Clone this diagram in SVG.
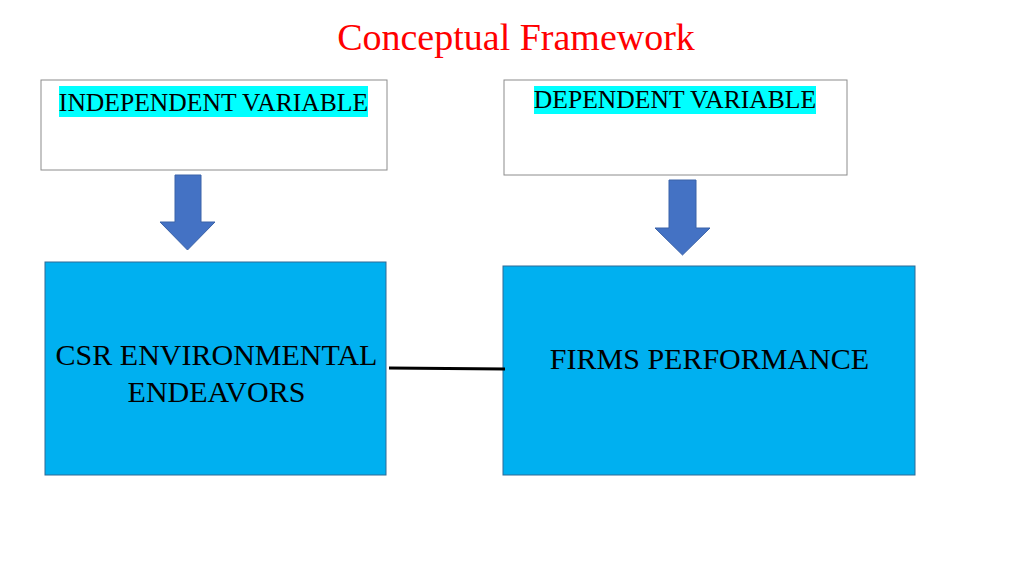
<svg xmlns="http://www.w3.org/2000/svg" width="1024" height="576" viewBox="0 0 1024 576">
<style>
.t{font-family:"Liberation Serif","Times New Roman",serif;fill:#000;}
.hdr{fill:#fff;stroke:#8c8c8c;stroke-width:1;}
.hl{fill:#00FFFF;}
.blue{fill:#00B0F0;stroke:#2F6A96;stroke-width:1;}
.arr{fill:#4472C4;stroke:#3A62A8;stroke-width:1;}
</style>
<rect width="1024" height="576" fill="#fff"/>
<text x="516" y="50" text-anchor="middle" font-family="Liberation Serif, serif" font-size="38" fill="#FF0000">Conceptual Framework</text>
<g id="independent">
<rect class="hdr" x="41" y="80" width="346" height="90"/>
<rect class="hl" x="59" y="86" width="309" height="31"/>
<text class="t" x="213.5" y="111" text-anchor="middle" font-size="25.6">INDEPENDENT VARIABLE</text>
</g>
<g id="dependent">
<rect class="hdr" x="504" y="80" width="343" height="95"/>
<rect class="hl" x="534" y="86" width="282" height="28"/>
<text class="t" x="675" y="108" text-anchor="middle" font-size="25.6">DEPENDENT VARIABLE</text>
</g>
<g id="arrow1">
<polygon class="arr" points="175,175 201,175 201,222 215,222 187.5,250 160,222 175,222"/>
</g>
<g id="arrow2">
<polygon class="arr" points="669,180 696,180 696,228 710,228 682.5,255 655,228 669,228"/>
</g>
<g id="csr">
<rect class="blue" x="45" y="262" width="341" height="213"/>
<text class="t" x="216.5" y="365" text-anchor="middle" font-size="30">CSR ENVIRONMENTAL</text>
<text class="t" x="216.5" y="402" text-anchor="middle" font-size="30">ENDEAVORS</text>
</g>
<g id="firms">
<rect class="blue" x="503" y="266" width="412" height="209"/>
<text class="t" x="709.5" y="369" text-anchor="middle" font-size="30">FIRMS PERFORMANCE</text>
</g>
<g id="connectors">
<line x1="389" y1="368" x2="505" y2="369" stroke="#000" stroke-width="3"/>
</g>
</svg>
